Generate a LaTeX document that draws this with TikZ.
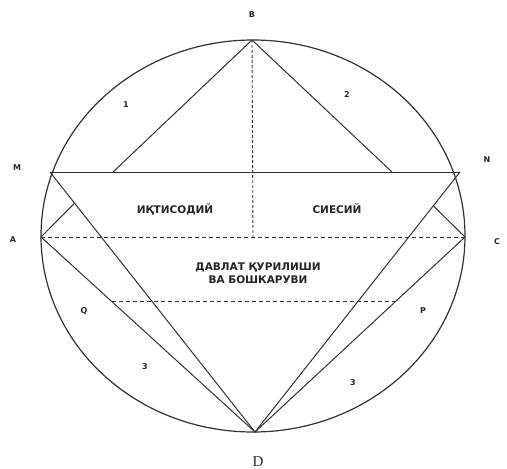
\documentclass[tikz,border=0pt]{standalone}
\usepackage{fontspec}
\setmainfont{Liberation Serif}
\newfontfamily\lblfont{DejaVu Sans}
\usetikzlibrary{calc}

\begin{document}
\begin{tikzpicture}[x=1pt, y=-1pt,
    line/.style={black!80, line width=1pt},
    dashline/.style={black!80, line width=0.9pt, dash pattern=on 4pt off 3pt},
    dotline/.style={black!80, line width=0.9pt, dash pattern=on 3pt off 2pt},
    pt/.style={font=\lblfont\bfseries\fontsize{8}{9}\selectfont, text=black!85, inner sep=1pt},
    area/.style={font=\lblfont\bfseries\fontsize{10.5}{13}\selectfont, text=black!85, inner sep=1pt, align=center}]
  \useasboundingbox (0,0) rectangle (507,469);
  % contour
  \draw[black!80, line width=1.2pt] (253,236) ellipse [x radius=212, y radius=196];
  % points
  \coordinate (B) at (252,40);
  \coordinate (M) at (50,172);
  \coordinate (N) at (460,172);
  \coordinate (A) at (41,237);
  \coordinate (C) at (465,237);
  \coordinate (D) at (255,432);
  \coordinate (O) at (253,237);
  \coordinate (B1) at (113,172);
  \coordinate (B2) at (392,172);
  \coordinate (Q) at ($(A)!0.33!(D)$);
  \coordinate (P) at ($(C)!0.33!(D)$);
  \coordinate (MA) at ($(M)!0.12!(D)$);
  \coordinate (NC) at ($(N)!0.13!(D)$);
  % upper triangle
  \draw[line] (B1) -- (B) -- (B2);
  \draw[line] (M) -- (N);
  \draw[dotline] (B) -- (O);
  % middle belt
  \draw[dashline] (A) -- (C);
  \draw[dashline] (Q) -- (P);
  % lower wedges
  \draw[line] (M) -- (D) -- (N);
  \draw[line] (A) -- (D) -- (C);
  \draw[line] (A) -- (MA);
  \draw[line] (C) -- (NC);
  % labels
  \node[pt] (lB) at (252,15) {B};
  \node[pt] (lM) at (17,168) {M};
  \node[pt] (lN) at (487,160) {N};
  \node[pt] (lA) at (13,240) {A};
  \node[pt] (lC) at (497,242) {C};
  \node[pt] (lQ) at (84,311) {Q};
  \node[pt] (lP) at (423,311) {P};
  \node[font=\fontsize{15}{16}\selectfont, text=black!85, inner sep=1pt] (lD) at (258,462) {D};
  \node[pt] (n1) at (126,105) {1};
  \node[pt] (n2) at (347,95) {2};
  \node[pt] (n3a) at (145,367) {3};
  \node[pt] (n3b) at (353,383) {3};
  \node[area] (econ) at (175,209) {ИҚТИСОДИЙ};
  \node[area] (polit) at (337,209) {СИЕСИЙ};
  \node[area] (state) at (258,273) {ДАВЛАТ ҚУРИЛИШИ\\ВА БОШКАРУВИ};
\end{tikzpicture}
\end{document}
